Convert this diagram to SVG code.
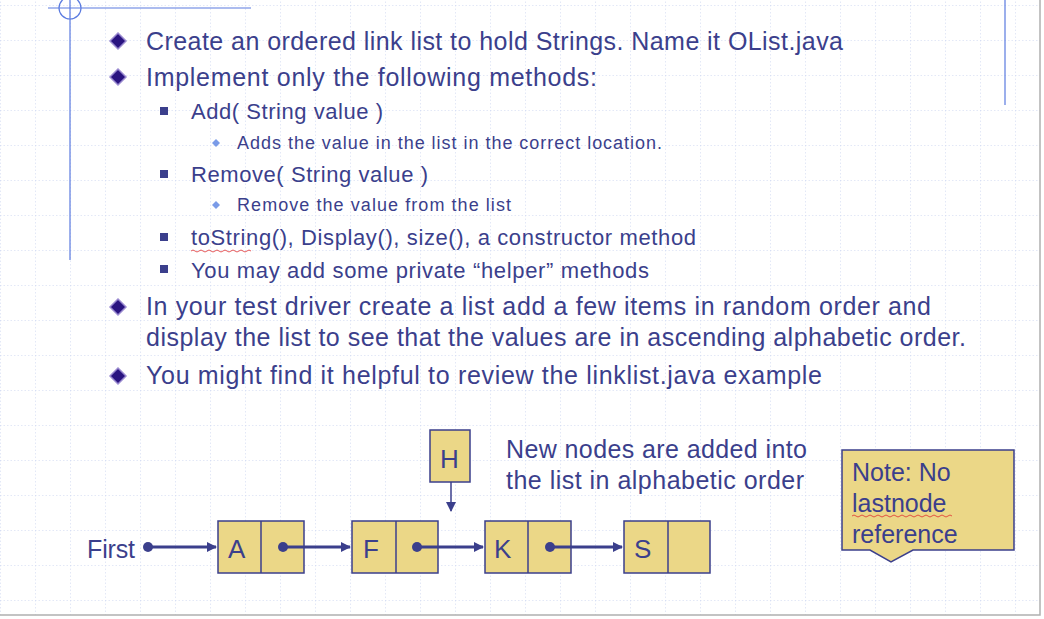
<svg xmlns="http://www.w3.org/2000/svg" width="1044" height="619" viewBox="0 0 1044 619">
<defs>
<pattern id="g" x="0" y="5" width="35" height="35" patternUnits="userSpaceOnUse">
<path d="M0 0H35M0 0V35" fill="none" stroke="#c8d2f0" stroke-width="1" stroke-dasharray="1.5 2"/>
</pattern>
<marker id="ar" markerWidth="10" markerHeight="10" refX="9" refY="5" orient="auto" markerUnits="userSpaceOnUse"><path d="M0 0L10 5L0 10Z" fill="#3b3f8c"/></marker>
<style>
text{font-family:"Liberation Sans",Arial,sans-serif;fill:#3b3f8c}
.l1{font-size:25px}.l2{font-size:22px}.l3{font-size:18px}
.box{fill:#ebd787;stroke:#3b3f8c;stroke-width:1.5}
.c{stroke:#3b3f8c;stroke-width:3;fill:none}
.d{fill:#3b3f8c}
.bl{font-size:26px}
</style>
</defs>
<rect width="1044" height="619" fill="#fff"/>
<rect width="1040" height="615" fill="url(#g)"/>
<path d="M1040 0V615H0" fill="none" stroke="#b0b0b0" stroke-width="1.5"/>
<g stroke="#5b7be0" stroke-width="1.2" fill="none">
<path d="M48 8H251M70 0V260M1005 0V105"/>
<circle cx="70" cy="8" r="11"/>
</g>
<g id="bullets">
<g fill="#2a1480" stroke="#9a8ad0" stroke-width="1.5">
<path d="M118 33l8 8-8 8-8-8z"/><path d="M118 69l8 8-8 8-8-8z"/><path d="M118 299l8 8-8 8-8-8z"/><path d="M118 368l8 8-8 8-8-8z"/>
</g>
<g fill="#3b3f8c"><rect x="160" y="107" width="8" height="8"/><rect x="160" y="170" width="8" height="8"/><rect x="160" y="233" width="8" height="8"/><rect x="160" y="265" width="8" height="8"/></g>
<g fill="#7a9be8"><path d="M216 139l4 4-4 4-4-4z"/><path d="M216 201l4 4-4 4-4-4z"/></g>
<text class="l1" x="146" y="50" textLength="697">Create an ordered link list to hold Strings. Name it OList.java</text>
<text class="l1" x="146" y="86" textLength="451">Implement only the following methods:</text>
<text class="l2" x="191" y="119" textLength="192">Add( String value )</text>
<text class="l3" x="237" y="149" textLength="425">Adds the value in the list in the correct location.</text>
<text class="l2" x="191" y="182" textLength="237">Remove( String value )</text>
<text class="l3" x="237" y="211" textLength="274">Remove the value from the list</text>
<text class="l2" x="191" y="245" textLength="505">toString(), Display(), size(), a constructor method</text>
<path d="M191 251q2-2 4 0t4 0 4 0 4 0 4 0 4 0 4 0 4 0 4 0 4 0 4 0 4 0 4 0 4 0 4 0" stroke="#e03030" fill="none" stroke-width="0.8"/>
<text class="l2" x="191" y="278" textLength="458">You may add some private “helper” methods</text>
<text class="l1" x="146" y="315" textLength="785">In your test driver create a list add a few items in random order and</text>
<text class="l1" x="146" y="346" textLength="820">display the list to see that the values are in ascending alphabetic order.</text>
<text class="l1" x="146" y="384" textLength="676">You might find it helpful to review the linklist.java example</text>
</g>
<g id="first"><text class="l1" x="87" y="558" textLength="48">First</text></g>
<g id="nodeA"><rect class="box" x="218" y="521" width="86" height="52"/><path d="M261 521V573" stroke="#3b3f8c" stroke-width="1.5"/><text class="bl" x="228" y="558">A</text></g>
<g id="nodeF"><rect class="box" x="352" y="521" width="86" height="52"/><path d="M396 521V573" stroke="#3b3f8c" stroke-width="1.5"/><text class="bl" x="363" y="558">F</text></g>
<g id="nodeK"><rect class="box" x="485" y="521" width="86" height="52"/><path d="M528 521V573" stroke="#3b3f8c" stroke-width="1.5"/><text class="bl" x="494" y="558">K</text></g>
<g id="nodeS"><rect class="box" x="624" y="521" width="86" height="52"/><path d="M668 521V573" stroke="#3b3f8c" stroke-width="1.5"/><text class="bl" x="634" y="558">S</text></g>
<g id="nodeH"><rect class="box" x="430" y="430" width="40" height="52"/><text class="bl" x="440" y="468">H</text></g>
<g id="caption"><text class="l1" x="506" y="458" textLength="301">New nodes are added into</text><text class="l1" x="506" y="489" textLength="298">the list in alphabetic order</text></g>
<g id="note">
<path class="box" d="M842 450H1014V550H913L891 562L870 550H842Z"/>
<text class="l1" x="852" y="481">Note: No</text>
<text class="l1" x="852" y="512">lastnode</text>
<text class="l1" x="852" y="543">reference</text>
<path d="M852 516q2-2 4 0t4 0 4 0 4 0 4 0 4 0 4 0 4 0 4 0 4 0 4 0 4 0 4 0 4 0 4 0 4 0 4 0 4 0 4 0 4 0 4 0 4 0 4 0 4 0 4 0" stroke="#e03030" fill="none" stroke-width="0.8"/>
</g>
<g id="connectors">
<circle class="d" cx="148" cy="547" r="5"/><path class="c" d="M148 547H216" marker-end="url(#ar)"/>
<circle class="d" cx="283" cy="547" r="5"/><path class="c" d="M283 547H350" marker-end="url(#ar)"/>
<circle class="d" cx="417" cy="547" r="5"/><path class="c" d="M417 547H483" marker-end="url(#ar)"/>
<circle class="d" cx="550" cy="547" r="5"/><path class="c" d="M550 547H622" marker-end="url(#ar)"/>
<path d="M451 482V511" stroke="#3b3f8c" stroke-width="1.5" marker-end="url(#ar)"/>
</g>
</svg>
